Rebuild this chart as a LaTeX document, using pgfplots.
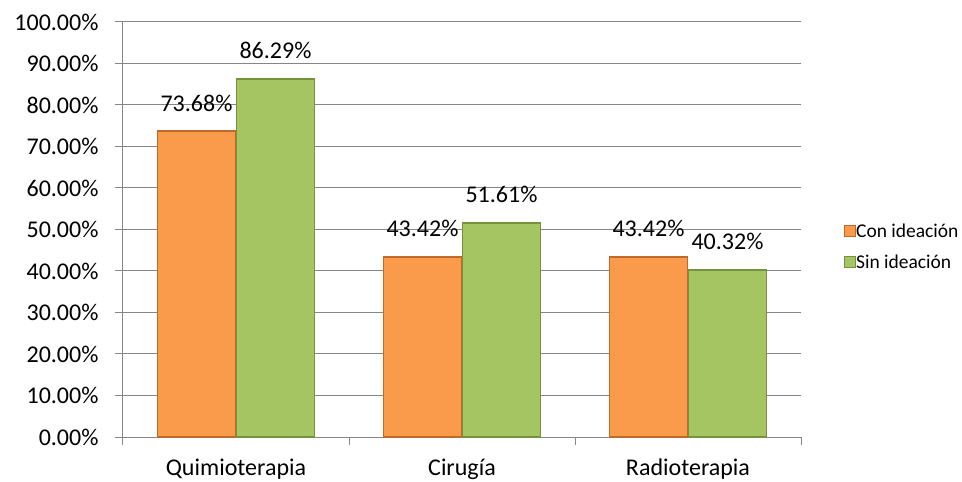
\documentclass[border=0pt]{standalone}
\usepackage{pgfplots}
\pgfplotsset{compat=1.18}
\usepackage{fontspec}
\setmainfont{Carlito}
\definecolor{gridgray}{HTML}{868686}
\definecolor{orfill}{HTML}{F99B4A}
\definecolor{ordraw}{HTML}{C06A2A}
\definecolor{grfill}{HTML}{A5C462}
\definecolor{grdraw}{HTML}{76923C}
\begin{document}
\begin{tikzpicture}
\useasboundingbox (-123bp,-45bp) rectangle (839bp,437bp);
\begin{axis}[
  at={(0,0)}, anchor=south west,
  scale only axis,
  width=678bp, height=415bp,
  xmin=-0.5, xmax=2.5,
  ymin=0, ymax=100,
  ytick={0,10,...,100},
  xtick={0,1,2},
  xticklabels={Quimioterapia,Cirugía,Radioterapia},
  minor xtick={-0.5,0.5,1.5,2.5},
  major x tick style={draw=none},
  minor x tick style={draw=gridgray, line width=1bp},
  major tick length=8bp, minor tick length=8bp,
  tick align=outside,
  axis x line*=bottom, axis y line*=left,
  axis line style={draw=gridgray, line width=1bp},
  y tick style={draw=gridgray, line width=1bp},
  ymajorgrids,
  grid style={draw=gridgray, line width=1bp},
  /pgf/number format/assume math mode=true,
  yticklabel={\pgfmathprintnumber[fixed,fixed zerofill,precision=2]{\tick}\%},
  ticklabel style={font=\fontsize{24bp}{28bp}\selectfont, text=black},
  yticklabel style={xshift=-13bp},
  xticklabel style={yshift=-10bp},
  ybar=1bp, bar width=78bp,
  nodes near coords={\pgfmathprintnumber[fixed,fixed zerofill,precision=2]{\pgfplotspointmeta}\%},
  nodes near coords style={font=\fontsize{24bp}{28bp}\selectfont, text=black, anchor=south, inner sep=0pt, yshift=19bp},
  legend style={at={(rel axis cs:1.058,0.458)}, anchor=west, draw=none, fill=none,
    font=\fontsize{19.5bp}{23bp}\selectfont, row sep=14bp,
    nodes={inner sep=1bp}},
  legend cell align=left,
  legend image code/.code={\draw[#1,line width=0.6bp] (0bp,-5bp) rectangle (11bp,6bp);},
  clip=false,
]
\addplot[fill=orfill, draw=ordraw, line width=1.8bp] coordinates {(0,73.68) (1,43.42) (2,43.42)};
\addplot[fill=grfill, draw=grdraw, line width=1.8bp] coordinates {(0,86.29) (1,51.61) (2,40.32)};
\addlegendentry{Con ideación}
\addlegendentry{Sin ideación}
\end{axis}
\end{tikzpicture}
\end{document}
